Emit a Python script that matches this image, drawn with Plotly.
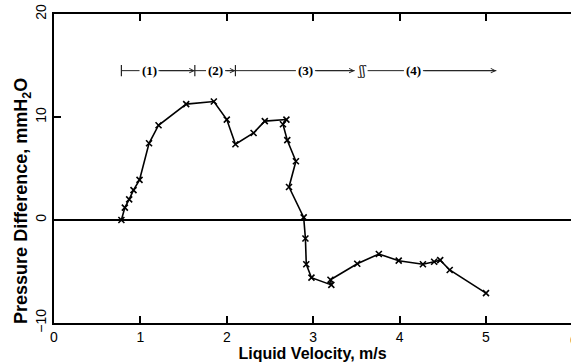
import plotly.graph_objects as go

# Measured data (liquid velocity m/s, pressure difference mmH2O)
velocity = [0.78, 0.82, 0.87, 0.92, 0.99, 1.10, 1.21, 1.53, 1.85, 2.00, 2.10,
            2.31, 2.44, 2.69, 2.65, 2.70, 2.80, 2.72, 2.89, 2.91, 2.92, 2.98,
            3.21, 3.20, 3.51, 3.76, 3.99, 4.27, 4.40, 4.47, 4.58, 5.00]
pressure = [0.0, 1.2, 2.0, 2.9, 3.9, 7.45, 9.2, 11.25, 11.5, 9.75, 7.35,
            8.45, 9.6, 9.75, 9.3, 7.75, 5.7, 3.2, 0.25, -1.8, -4.3, -5.6,
            -6.3, -5.8, -4.25, -3.3, -3.95, -4.3, -4.05, -3.9, -4.85, -7.1]

# Flow-regime indicator (top of chart)
regime_y = 14.5
regime_bounds = [0.78, 1.63, 2.10, 3.48, 5.12]
regime_labels = ["(1)", "(2)", "(3)", "(4)"]
regime_label_x = [1.10, 1.87, 2.91, 4.16]
regime_break_x = 3.56

x_ticks = [0, 1, 2, 3, 4, 5]
y_ticks = [-10, 0, 10, 20]
y_tick_text = ["\u221210", "0", "10", "20"]

fig = go.Figure()

fig.add_trace(go.Scatter(
    x=velocity, y=pressure, mode="lines+markers",
    line=dict(color="black", width=1.6),
    marker=dict(symbol="x-thin", size=6, color="black",
                line=dict(color="black", width=1.6)),
    showlegend=False, hoverinfo="skip"))

# regime line segments (gaps around labels)
half_gap = 0.11
seg_x, seg_y = [], []
starts = [regime_bounds[0], regime_bounds[1], regime_bounds[2], regime_break_x + 0.07]
ends = [regime_bounds[1], regime_bounds[2], regime_bounds[3], regime_bounds[4]]
for s, e, lx in zip(starts, ends, regime_label_x):
    seg_x += [s, lx - half_gap, None, lx + half_gap, e, None]
    seg_y += [regime_y, regime_y, None, regime_y, regime_y, None]
fig.add_trace(go.Scatter(x=seg_x, y=seg_y, mode="lines",
                         line=dict(color="#222", width=1),
                         showlegend=False, hoverinfo="skip"))
# boundary bars
fig.add_trace(go.Scatter(x=regime_bounds[:3], y=[regime_y] * 3, mode="markers",
                         marker=dict(symbol="line-ns", size=8,
                                     line=dict(color="#222", width=1.2)),
                         showlegend=False, hoverinfo="skip"))

# arrow heads
for s, e, lx in zip(starts, ends, regime_label_x):
    fig.add_annotation(x=e, y=regime_y, ax=lx + half_gap, ay=regime_y,
                       xref="x", yref="y", axref="x", ayref="y",
                       text="", showarrow=True, arrowhead=5, arrowsize=0.9,
                       arrowwidth=1, arrowcolor="#222", standoff=0)

for lx, lab in zip(regime_label_x, regime_labels):
    fig.add_annotation(x=lx, y=regime_y, text=lab, showarrow=False,
                       font=dict(family="Liberation Serif", size=13, color="#000",
                                 weight="bold"),
                       xref="x", yref="y")
fig.add_annotation(x=regime_break_x, y=regime_y, text="\u0283\u0283", showarrow=False,
                   font=dict(family="DejaVu Serif", size=12, color="#111"),
                   xref="x", yref="y")

# y-axis title (placed as in the reference, slightly below centre)
fig.add_annotation(x=-0.06, y=0.395, xref="paper", yref="paper",
                   xanchor="center", yanchor="middle", textangle=-90,
                   text="Pressure Difference, mmH<sub>2</sub>O", showarrow=False,
                   font=dict(family="Liberation Sans", size=18, color="black",
                             weight="bold"))

# partially visible "6" tick label at the right edge
fig.add_annotation(x=1, y=0, xref="paper", yref="paper", xanchor="left",
                   yanchor="top", xshift=-3, yshift=-7, text="6", showarrow=False,
                   font=dict(family="Liberation Sans", size=14, color="black"))

fig.update_layout(
    width=571, height=364,
    margin=dict(l=54, r=0, t=14, b=41),
    paper_bgcolor="white", plot_bgcolor="white",
    font=dict(family="Liberation Sans", color="black"),
    xaxis=dict(range=[0, 5.984], tickvals=x_ticks, ticks="inside", ticklen=7,
               tickwidth=1.5, tickcolor="black", showline=True, linewidth=2,
               linecolor="black", mirror="ticks", showgrid=False, zeroline=False,
               tickfont=dict(size=14),
               title=dict(text="Liquid Velocity, m/s", standoff=3,
                          font=dict(size=16, weight="bold"))),
    yaxis=dict(range=[-10, 20], tickvals=y_ticks, ticktext=y_tick_text,
               tickangle=-90, ticks="inside", ticklen=7, tickwidth=1.5,
               tickcolor="black", showline=True, linewidth=2, linecolor="black",
               showgrid=False, zeroline=True, zerolinecolor="black",
               zerolinewidth=1.8, tickfont=dict(size=14)),
)

fig.write_html("out.html")
